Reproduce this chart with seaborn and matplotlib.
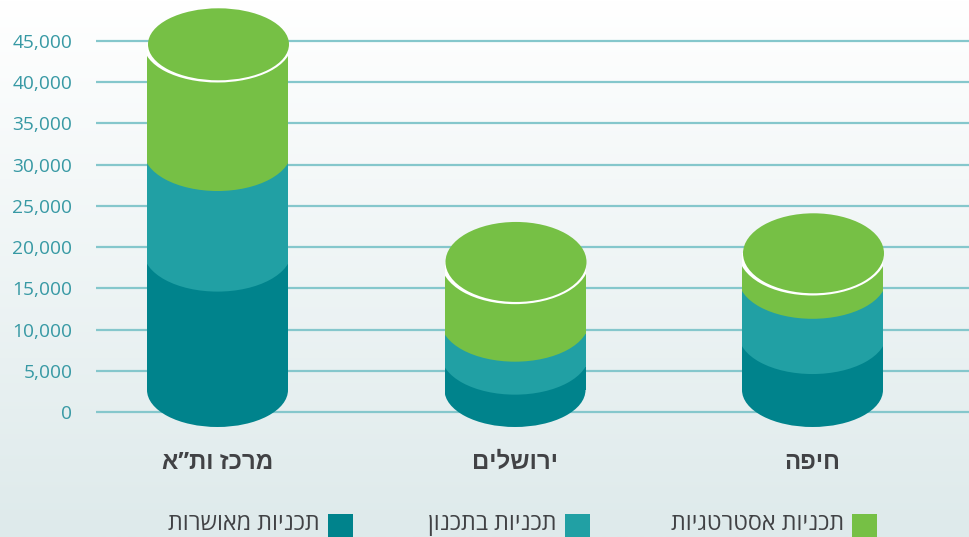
import numpy as np
import pandas as pd
import matplotlib.pyplot as plt
from matplotlib.patches import Ellipse, Rectangle
import seaborn as sns

# values (top of each layer, at the cylinder side)
categories = ['מרכז ות”א', 'ירושלים', 'חיפה']
approved = [18000, 5500, 8000]
planning = [12200, 4000, 6700]
strategic = [14400, 8700, 4550]
tick_values = [0, 5000, 10000, 15000, 20000, 25000, 30000, 35000, 40000, 45000]
series_names = ['תכניות מאושרות', 'תכניות בתכנון', 'תכניות אסטרטגיות']

DARK = '#00838c'
MID = '#21a0a4'
GREEN = '#76c045'
GRID = '#85c7cc'
TICK = '#3799a4'
TEXT = '#414245'

W, H = 970, 537
PX_PER_UNIT = 371 / 45000   # 0 at y=412px, 45000 at y=41px
PX_PER_CAT = 297.5


def heb(s):
    # matplotlib has no bidi support, so hebrew goes in visual order
    return s[::-1]


sns.set_theme(style='white')
plt.rcParams['font.family'] = ['Open Sans', 'Liberation Sans', 'DejaVu Sans']

fig = plt.figure(figsize=(W / 100, H / 100), dpi=100)

# background gradient
bg = fig.add_axes([0, 0, 1, 1], zorder=-1)
top_col = np.array([255, 255, 255]) / 255
bot_col = np.array([222, 234, 235]) / 255
grad = np.linspace(0, 1, 256)[:, None, None] * (bot_col - top_col) + top_col
bg.imshow(grad, aspect='auto')
bg.axis('off')

ax = fig.add_axes([96 / W, 0, 1 - 96 / W, 1])
ax.patch.set_alpha(0)

df = pd.DataFrame({'region': categories, 'approved': approved, 'planning': planning, 'strategic': strategic})
df['lvl1'] = df['approved']
df['lvl2'] = df['lvl1'] + df['planning']
df['lvl3'] = df['lvl2'] + df['strategic']

base = 22 / PX_PER_UNIT      # cylinder floor sits a bit above the zero line
bar_w = 141 / PX_PER_CAT

# tallest first, shorter ones on top of it
for col, color, z in [('lvl3', GREEN, 2), ('lvl2', MID, 3), ('lvl1', DARK, 4)]:
    sns.barplot(x=df['region'], y=df[col] - base, order=categories, bottom=base, color=color,
                width=bar_w, saturation=1, linewidth=0, zorder=z, ax=ax)

ax.set_xlim((96 - 217.5) / PX_PER_CAT, (W - 217.5) / PX_PER_CAT)
ax.set_ylim((412 - H) / PX_PER_UNIT, 412 / PX_PER_UNIT)

ry = 40 / PX_PER_UNIT
rise = 12 / PX_PER_UNIT      # curve centre is above the corner on the side
top_ry = [36 / PX_PER_UNIT, 40 / PX_PER_UNIT, 40 / PX_PER_UNIT]
curve_w = 148 / PX_PER_CAT

for i in range(len(categories)):
    side = Rectangle((i - bar_w / 2, -20000), bar_w, 80000, transform=ax.transData)

    # rounded floor
    floor = Ellipse((i, base), bar_w, 2 * 37 / PX_PER_UNIT, fc=DARK, lw=0, zorder=4)
    ax.add_patch(floor)
    floor.set_clip_path(side)

    # curved layer edges, cut to the cylinder side
    for col, color, z in [('lvl1', MID, 5), ('lvl2', GREEN, 6)]:
        e = Ellipse((i, df[col][i] + rise), curve_w, 2 * ry, fc=color, lw=0, zorder=z)
        ax.add_patch(e)
        e.set_clip_path(side)

    # white rim under the lid, only the lower half shows
    rim = Ellipse((i, df['lvl3'][i]), curve_w, 2 * (top_ry[i] + 2.2 / PX_PER_UNIT), fc='white', lw=0, zorder=6.5)
    ax.add_patch(rim)
    rim.set_clip_path(Rectangle((i - bar_w / 2, -20000), bar_w, 20000 + df['lvl3'][i], transform=ax.transData))

    # lid
    ax.add_patch(Ellipse((i + 1 / PX_PER_CAT, df['lvl3'][i]), bar_w, 2 * top_ry[i], fc=GREEN, lw=0, zorder=7))

    ax.text(i, -6150, heb(categories[i]), ha='center', va='center', fontsize=17.3,
            fontweight='bold', color=TEXT)

ax.set_yticks(tick_values)
ax.set_yticklabels([f'{v:,}' for v in tick_values], color=TICK, fontsize=13.8)
ax.tick_params(axis='y', length=0, pad=17)
ax.set_xticks([])
ax.set_xlabel('')
ax.set_ylabel('')
ax.yaxis.grid(True, color=GRID, linewidth=1.6)
ax.set_axisbelow(True)
sns.despine(ax=ax, left=True, bottom=True)

# legend
for name, color, x0 in zip(series_names, [DARK, MID, GREEN], [328, 565, 852]):
    fig.add_artist(Rectangle((x0 / W, 0), 25 / W, 23 / H, fc=color, lw=0, transform=fig.transFigure))
    fig.text((x0 - 8) / W, 1 - 524 / H, heb(name), ha='right', va='center', fontsize=16.8, color=TEXT)

fig.savefig('out.png', dpi=100)
